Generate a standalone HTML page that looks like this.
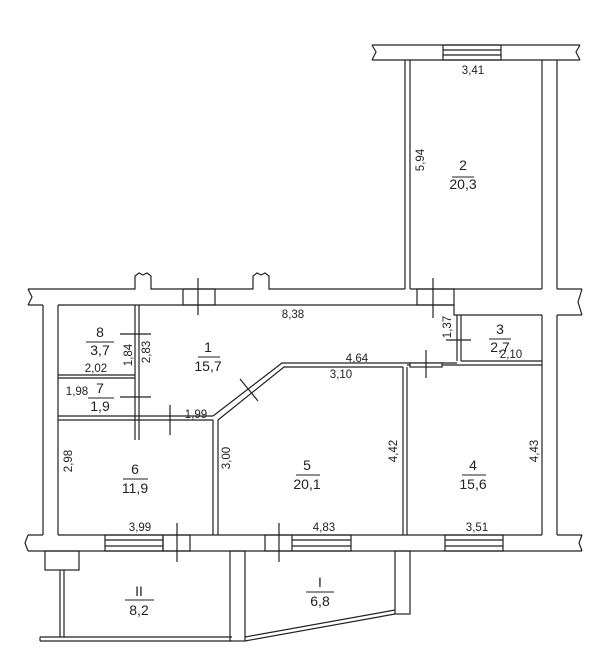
<!DOCTYPE html>
<html><head><style>html,body{margin:0;padding:0;background:#fff;}svg{display:block}</style></head>
<body>
<svg width="608" height="670" viewBox="0 0 608 670" xmlns="http://www.w3.org/2000/svg" font-family="Liberation Sans, sans-serif" fill="none" stroke="#222" stroke-width="1.2">
<!-- room 2 top wall -->
<path d="M372,45 H580 M372,60 H580"/>
<path d="M372,45 l4,7 l-4,8 M580,45 l-4,7 l4,8"/>
<rect x="443" y="45" width="58" height="15"/>
<path d="M443,50 H501 M443,55 H501"/>
<!-- room 2 -->
<path d="M405,60 V289 M410,60 V289 M542,60 V289 M557,60 V289"/>
<!-- main top wall -->
<path d="M28,289 H135 V276 l4,-3 l4,2 l4,-2 l4,3 V289 H253 V276 l4,-3 l4,2 l4,-2 l4,3 V289 H405 M410,289 H542 M557,289 H582"/>
<path d="M28,289 l4,8 l-4,8 M582,289 l-4,13 l4,13"/>
<path d="M28,305 H43 M58,305 H454 V315 H542 M557,315 H582"/>
<rect x="183" y="289" width="32" height="16"/>
<path d="M198,278 V315"/>
<rect x="417" y="289" width="37" height="16"/>
<path d="M433,278 V318"/>
<!-- left outer wall -->
<path d="M43,305 V535 M58,305 V535"/>
<!-- right outer wall -->
<path d="M542,315 V535 M557,315 V535"/>
<!-- room 8/7 partitions -->
<path d="M135,305 V440 M139,305 V440"/>
<path d="M58,375 H135 M58,378 H135"/>
<path d="M120,334 H151 M120,397 H151"/>
<path d="M58,420 H213 M58,416 H213"/>
<path d="M170,405 V435"/>
<!-- room 6 right wall + diagonal -->
<path d="M213,420 V535 M218,420 V535"/>
<path d="M213,416 L282,363 H457 M218,420 L284,367 H403"/>
<path d="M240,379 l18,22"/>
<!-- room 5/4 wall -->
<path d="M403,367 V535 M407,367 V535 M407,365 H542"/>
<rect x="410" y="363" width="32" height="4" fill="#fff"/>
<path d="M426,350 V378"/>
<!-- room 3 -->
<path d="M457,315 V361 M461,315 V361 M461,361 H542"/>
<path d="M446,340 H471"/>
<!-- bottom wall -->
<path d="M28,535 H43 M58,535 H542 M557,535 H582 M28,551 H582"/>
<path d="M28,535 l-3,8 l3,8 M582,535 l-3,8 l3,8"/>
<rect x="105" y="535" width="58" height="16"/>
<path d="M105,540 H163 M105,546 H163"/>
<rect x="163" y="535" width="27" height="16"/>
<path d="M177,523 V562"/>
<rect x="265" y="535" width="86" height="16"/>
<path d="M292,535 V551 M292,540 H351 M292,546 H351"/>
<path d="M279,523 V562"/>
<rect x="445" y="535" width="58" height="16"/>
<path d="M445,540 H503 M445,546 H503"/>
<!-- balcony II -->
<rect x="45" y="551" width="34" height="19"/>
<path d="M60,570 V637 M64,570 V637"/>
<path d="M40,637 H232 M40,641 H232 M40,637 l0,4"/>
<rect x="230" y="551" width="15" height="90"/>
<!-- balcony I -->
<rect x="395" y="551" width="15" height="63"/>
<path d="M245,637 L395,610 M245,641 L395,614"/>
<!-- labels -->
<g fill="#222" stroke="none" font-size="14" text-anchor="middle">
<text x="463" y="170">2</text><text x="463" y="189">20,3</text>
<text x="208" y="352">1</text><text x="208" y="371">15,7</text>
<text x="100" y="337">8</text><text x="100" y="355">3,7</text>
<text x="100" y="393">7</text><text x="100" y="411">1,9</text>
<text x="500" y="334">3</text><text x="500" y="352">2,7</text>
<text x="473" y="470">4</text><text x="473" y="489">15,6</text>
<text x="307" y="470">5</text><text x="307" y="489">20,1</text>
<text x="135" y="474">6</text><text x="135" y="493">11,9</text>
<text x="139" y="596">II</text><text x="139" y="615">8,2</text>
<text x="320" y="587">I</text><text x="320" y="606">6,8</text>
</g>
<g stroke="#222" stroke-width="1">
<path d="M452,177 H474 M198,357 H220 M86,342 H114 M88,398 H114 M489,339 H511 M462,475 H486 M296,475 H320 M123,479 H148 M125,600 H154 M306,592 H334"/>
</g>
<g fill="#222" stroke="none" font-size="11.5" text-anchor="middle">
<text x="473" y="74">3,41</text>
<text x="293" y="318">8,38</text>
<text x="357" y="362">4,64</text>
<text x="341" y="378">3,10</text>
<text x="96" y="372">2,02</text>
<text x="77" y="395">1,98</text>
<text x="196" y="418">1,99</text>
<text x="511" y="358">2,10</text>
<text x="140" y="531">3,99</text>
<text x="324" y="531">4,83</text>
<text x="477" y="531">3,51</text>
<text transform="translate(424,160) rotate(-90)">5,94</text>
<text transform="translate(132,355) rotate(-90)">1,84</text>
<text transform="translate(150,352) rotate(-90)">2,83</text>
<text transform="translate(451,327) rotate(-90)">1,37</text>
<text transform="translate(230,458) rotate(-90)">3,00</text>
<text transform="translate(72,461) rotate(-90)">2,98</text>
<text transform="translate(397,451) rotate(-90)">4,42</text>
<text transform="translate(538,451) rotate(-90)">4,43</text>
</g>
</svg>
</body></html>
